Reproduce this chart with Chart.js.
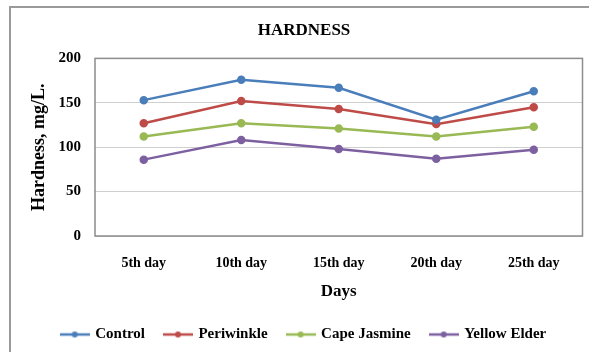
<!DOCTYPE html>
<html>
<head>
<meta charset="utf-8">
<script src="https://cdn.jsdelivr.net/npm/chart.js@4"></script>
<style>
    html, body { margin: 0; padding: 0; background: #fff; }
    #wrap { position: relative; width: 589px; height: 352px; }
</style>
</head>
<body>
<div id="wrap"><canvas id="hardnessChart" width="589" height="352"></canvas></div>
<script>
const days = ['5th day', '10th day', '15th day', '20th day', '25th day'];
const control = [153, 176, 167, 131, 163];
const periwinkle = [127, 152, 143, 126, 145];
const capeJasmine = [112, 127, 121, 112, 123];
const yellowElder = [86, 108, 98, 87, 97];

const serif = '"Liberation Serif", "Times New Roman", serif';

// frame around the plot area and around the whole chart
const frames = {
    id: 'frames',
    afterDraw(chart) {
        const ctx = chart.ctx;
        const a = chart.chartArea;
        ctx.save();
        ctx.strokeStyle = '#8c8c8c';
        ctx.lineWidth = 1.5;
        ctx.strokeRect(a.left, a.top, a.right - a.left, a.bottom - a.top);
        ctx.strokeStyle = '#9a9a9a';
        ctx.lineWidth = 2;
        ctx.strokeRect(10, 7, 590, 360);
        ctx.restore();
    }
};

// little line-with-marker swatch for the legend
function swatch(color) {
    const c = document.createElement('canvas');
    c.width = 30;
    c.height = 8;
    const g = c.getContext('2d');
    g.strokeStyle = color;
    g.lineWidth = 2.5;
    g.beginPath();
    g.moveTo(0, 4);
    g.lineTo(30, 4);
    g.stroke();
    g.fillStyle = color;
    g.beginPath();
    g.arc(15, 4, 3, 0, Math.PI * 2);
    g.fill();
    return c;
}

function series(label, data, color) {
    return {
        label: label,
        data: data,
        borderColor: color,
        backgroundColor: color,
        borderWidth: 2.5,
        pointRadius: 3,
        pointBackgroundColor: color,
        pointBorderColor: color,
        tension: 0
    };
}

new Chart(document.getElementById('hardnessChart').getContext('2d'), {
    type: 'line',
    data: {
        labels: days,
        datasets: [
            series('Control', control, '#4a7ebb'),
            series('Periwinkle', periwinkle, '#be4b48'),
            series('Cape Jasmine', capeJasmine, '#98b954'),
            series('Yellow Elder', yellowElder, '#7d60a0')
        ]
    },
    plugins: [frames],
    options: {
        responsive: false,
        animation: false,
        layout: {
            padding: { top: 8, left: 25, right: 6, bottom: 0 }
        },
        plugins: {
            title: {
                display: true,
                text: 'HARDNESS',
                color: '#000',
                font: { family: serif, size: 17, weight: 'bold' },
                padding: { top: 12, bottom: 18 }
            },
            legend: {
                position: 'bottom',
                labels: {
                    color: '#000',
                    font: { family: serif, size: 15, weight: 'bold' },
                    usePointStyle: true,
                    pointStyleWidth: 26,
                    padding: 20,
                    generateLabels(chart) {
                        return chart.data.datasets.map((ds, i) => ({
                            text: ds.label,
                            fontColor: '#000',
                            pointStyle: swatch(ds.borderColor),
                            datasetIndex: i,
                            hidden: false,
                            lineWidth: 0
                        }));
                    }
                }
            },
            tooltip: { enabled: false }
        },
        scales: {
            y: {
                min: 0,
                max: 200,
                ticks: {
                    stepSize: 50,
                    color: '#000',
                    font: { family: serif, size: 15, weight: 'bold' },
                    padding: 14
                },
                grid: { color: '#cfcfcf', drawTicks: false },
                border: { display: false },
                title: {
                    display: true,
                    text: 'Hardness, mg/L.',
                    color: '#000',
                    font: { family: serif, size: 18, weight: 'bold' }
                },
                afterFit(scale) { scale.width = 70; }
            },
            x: {
                offset: true,
                ticks: {
                    color: '#000',
                    font: { family: serif, size: 14, weight: 'bold' },
                    padding: 11
                },
                grid: { display: false },
                border: { display: false },
                title: {
                    display: true,
                    text: 'Days',
                    color: '#000',
                    font: { family: serif, size: 17, weight: 'bold' },
                    padding: { top: 10, bottom: 5 }
                },
                afterFit(scale) { scale.height = 71; }
            }
        }
    }
});
</script>
</body>
</html>
